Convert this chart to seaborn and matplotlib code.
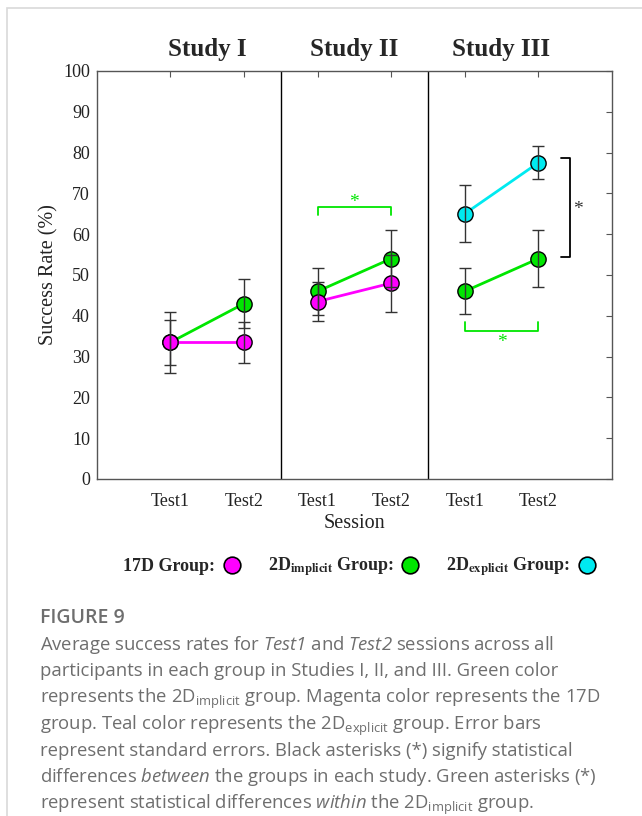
import matplotlib
matplotlib.use("Agg")
import pandas as pd
import matplotlib.pyplot as plt
import seaborn as sns
from matplotlib.lines import Line2D
from matplotlib.patches import Rectangle

# Session positions on the shared x axis (Test1/Test2 for each study)
tick_pos = [1, 2, 3, 4, 5, 6]
tick_labels = ["Test1", "Test2", "Test1", "Test2", "Test1", "Test2"]
study_names = ["Study I", "Study II", "Study III"]
study_centers = [1.5, 3.5, 5.5]

# 17D group (magenta): studies I and II
pos_17d = [1, 2, 3, 4]
study_17d = ["I", "I", "II", "II"]
rate_17d = [33.5, 33.5, 43.5, 48.0]
err_17d = [5.5, 5.0, 4.8, 7.0]

# 2D implicit group (green): all studies
pos_impl = [1, 2, 3, 4, 5, 6]
study_impl = ["I", "I", "II", "II", "III", "III"]
rate_impl = [33.5, 43.0, 46.0, 54.0, 46.0, 54.0]
err_impl = [7.5, 6.0, 5.7, 7.0, 5.6, 7.0]

# 2D explicit group (cyan): study III
pos_expl = [5, 6]
study_expl = ["III", "III"]
rate_expl = [65.0, 77.5]
err_expl = [7.0, 4.0]

group_colors = {"2Dimplicit": "#00e600", "17D": "#ff00ff", "2Dexplicit": "#00eaf0"}

df = pd.concat([
    pd.DataFrame({"pos": pos_impl, "study": study_impl, "rate": rate_impl, "err": err_impl, "group": "2Dimplicit"}),
    pd.DataFrame({"pos": pos_17d, "study": study_17d, "rate": rate_17d, "err": err_17d, "group": "17D"}),
    pd.DataFrame({"pos": pos_expl, "study": study_expl, "rate": rate_expl, "err": err_expl, "group": "2Dexplicit"}),
], ignore_index=True)

sns.set_style("white")
plt.rcParams["font.family"] = ["Liberation Serif", "DejaVu Serif"]
plt.rcParams["mathtext.fontset"] = "custom"
plt.rcParams["mathtext.rm"] = "Open Sans"
plt.rcParams["mathtext.it"] = "Open Sans:italic"
plt.rcParams["mathtext.sf"] = "Open Sans:italic"  # italic words incl. digits in caption

fig = plt.figure(figsize=(6.42, 8.16), dpi=100)
ax = fig.add_axes([0.151, 0.413, 0.802, 0.500])

sns.lineplot(
    data=df, x="pos", y="rate", hue="group", units="study", estimator=None,
    hue_order=["2Dimplicit", "17D", "2Dexplicit"], palette=group_colors,
    marker="o", markersize=11, markeredgecolor="black", markeredgewidth=1,
    linewidth=2, legend=False, ax=ax, zorder=3,
)
for g in ["2Dimplicit", "17D", "2Dexplicit"]:
    sub = df[df["group"] == g]
    ax.errorbar(sub["pos"], sub["rate"], yerr=sub["err"], fmt="none",
                ecolor="#333333", elinewidth=1, capsize=4, capthick=1, zorder=5)

# study dividers
for xd in [2.5, 4.5]:
    ax.axvline(xd, color="black", lw=1)

# significance brackets
green = "#00e600"
ax.plot([3, 3, 4, 4], [64.6, 66.7, 66.7, 64.6], color=green, lw=1.3, clip_on=False)
ax.text(3.5, 65.6, "*", color=green, ha="center", va="bottom", fontsize=14)
ax.plot([5, 5, 6, 6], [38.4, 36.3, 36.3, 38.4], color=green, lw=1.3, clip_on=False)
ax.text(5.5, 35.5, "*", color=green, ha="center", va="top", fontsize=14)
ax.plot([6.31, 6.43, 6.43, 6.31], [78.6, 78.6, 54.5, 54.5], color="black", lw=1.3)
ax.text(6.47, 66.0, "*", color="#333333", ha="left", va="center", fontsize=14)

for name, xc in zip(study_names, study_centers):
    ax.text(xc, 102.5, name, ha="center", va="bottom", fontsize=18, fontweight="bold", clip_on=False)

ax.set_xlim(0, 7)
ax.set_ylim(0, 100)
ax.set_xticks(tick_pos)
ax.set_xticklabels(tick_labels)
ax.set_yticks(range(0, 101, 10))
ax.tick_params(direction="in", top=True, right=True, length=4, width=0.8,
               labelsize=13, colors="#555555", labelcolor="#222222")
ax.tick_params(axis="x", pad=10)
ax.tick_params(axis="y", pad=5)
for sp in ax.spines.values():
    sp.set_color("#555555")
    sp.set_linewidth(1)
ax.set_xlabel("Session", fontsize=14.5, color="#222222", labelpad=3)
ax.set_ylabel("Success Rate (%)", fontsize=14.5, color="#222222", labelpad=3)

# legend row: label then marker
handles = [Line2D([], [], ls="none", marker="o", markersize=12, markerfacecolor=c,
                  markeredgecolor="black", markeredgewidth=1.2)
           for c in [group_colors["17D"], group_colors["2Dimplicit"], group_colors["2Dexplicit"]]]
labels = ["17D Group:",
          r"2D$_{\mathbf{implicit}}$ Group:",
          r"2D$_{\mathbf{explicit}}$ Group:"]
leg = fig.legend(handles, labels, loc="center", bbox_to_anchor=(0.56, 0.305), ncol=3,
                 markerfirst=False, frameon=False, handlelength=1, handletextpad=0.4,
                 columnspacing=1.5, prop={"family": "Liberation Serif", "weight": "bold", "size": 13})
for t in leg.get_texts():
    t.set_math_fontfamily("stix")

# caption card
fig.patches.append(Rectangle((7 / 642, -0.1), 1.2, 1 - 8 / 816 + 0.1, transform=fig.transFigure,
                             fill=False, edgecolor="#d9d9d9", lw=1.2))

cap_color = "#6e6e6e"
fig.text(40 / 642, 1 - 623 / 816, "FIGURE 9", family="Open Sans", fontweight="semibold",
         fontsize=14, color=cap_color, va="baseline")
caption_lines = [
    r"Average success rates for $\mathsf{Test1}$ and $\mathsf{Test2}$ sessions across all",
    r"participants in each group in Studies I, II, and III. Green color",
    r"represents the 2D$_{\mathrm{implicit}}$ group. Magenta color represents the 17D",
    r"group. Teal color represents the 2D$_{\mathrm{explicit}}$ group. Error bars",
    r"represent standard errors. Black asterisks (*) signify statistical",
    r"differences $\mathsf{between}$ the groups in each study. Green asterisks (*)",
    r"represent statistical differences $\mathsf{within}$ the 2D$_{\mathrm{implicit}}$ group.",
]
caption_base = [650, 676.5, 703, 729.5, 756, 782.5, 809]
for line, yy in zip(caption_lines, caption_base):
    t = fig.text(40 / 642, 1 - yy / 816, line, family="Open Sans", fontsize=13.3,
                 color=cap_color, va="baseline")
    t.set_math_fontfamily("custom")

fig.savefig("out.png", dpi=100)
